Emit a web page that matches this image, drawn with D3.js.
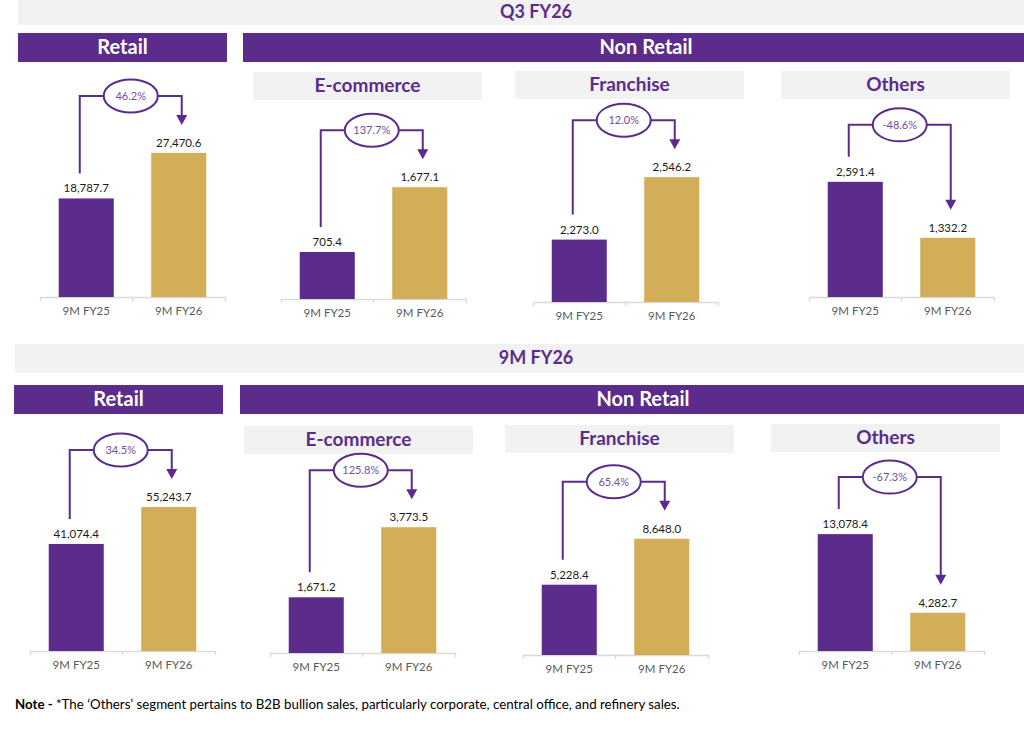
<!DOCTYPE html>
<html>
<head>
<meta charset="utf-8">
<script src="https://cdn.jsdelivr.net/npm/d3@7"></script>
<style>
  body { margin: 0; background: #fff; }
  svg { display: block; font-family: Lato, "Open Sans", sans-serif; }
</style>
</head>
<body>
<div id="chart"></div>
<script>
// data
var categories = ["9M FY25", "9M FY26"];
var segments = ["Retail", "E-commerce", "Franchise", "Others"];

var q3Values = [[18787.7, 27470.6], [705.4, 1677.1], [2273.0, 2546.2], [2591.4, 1332.2]];
var q3Growth = ["46.2%", "137.7%", "12.0%", "-48.6%"];
var q3AxisMin = [0, 0, 2000, 0];
var q3AxisMax = [30500, 2400, 2700, 3600];

var nineValues = [[41074.4, 55243.7], [1671.2, 3773.5], [5228.4, 8648.0], [13078.4, 4282.7]];
var nineGrowth = ["34.5%", "125.8%", "65.4%", "-67.3%"];
var nineAxisMin = [0, 0, 0, 0];
var nineAxisMax = [61400, 4800, 11900, 17900];

var noteText = "*The \u2018Others\u2019 segment pertains to B2B bullion sales, particularly corporate, central office, and refinery sales.";

var purple = "#5b2c8c", gold = "#d3ae58", grey = "#f2f2f2";
var plotH = 160, axisW = 185;

var svg = d3.select("#chart")
  .append("svg")
  .attr("width", 1024)
  .attr("height", 730);

// layout of the two blocks
var sections = [
  { title: "Q3 FY26", values: q3Values, growth: q3Growth, amin: q3AxisMin, amax: q3AxisMax,
    banner: [18, 0, 1006, 25], retail: [18, 33, 209, 29], nonRetail: [243, 33, 781, 29],
    subs: [[253, 72], [515, 71], [781, 71]],
    axes: [[40, 297], [281, 299], [533, 302], [809, 297]] },
  { title: "9M FY26", values: nineValues, growth: nineGrowth, amin: nineAxisMin, amax: nineAxisMax,
    banner: [15, 344, 1009, 29], retail: [14, 385, 209, 29], nonRetail: [240, 385, 784, 29],
    subs: [[244, 426], [505, 425], [771, 424]],
    axes: [[30, 651], [270, 653], [523, 655], [799, 651]] }
];

sections.forEach(function(s) {
  // grey banner
  svg.append("rect").attr("x", s.banner[0]).attr("y", s.banner[1])
    .attr("width", s.banner[2]).attr("height", s.banner[3]).attr("fill", grey);
  svg.append("text").attr("x", 536).attr("y", s.banner[1] + s.banner[3] / 2 + 1)
    .attr("text-anchor", "middle").attr("dominant-baseline", "middle")
    .style("font-size", "18px").style("font-weight", "bold").attr("fill", purple)
    .text(s.title);

  // purple headers
  [[s.retail, "Retail"], [s.nonRetail, "Non Retail"]].forEach(function(h) {
    var r = h[0];
    svg.append("rect").attr("x", r[0]).attr("y", r[1])
      .attr("width", r[2]).attr("height", r[3]).attr("fill", purple);
    svg.append("text").attr("x", r[0] + (h[1] == "Retail" ? r[2] / 2 : 403))
      .attr("y", r[1] + r[3] / 2 + 1)
      .attr("text-anchor", "middle").attr("dominant-baseline", "middle")
      .style("font-size", "20px").style("font-weight", "bold").attr("fill", "#fff")
      .text(h[1]);
  });

  // grey sub headers
  s.subs.forEach(function(p, i) {
    svg.append("rect").attr("x", p[0]).attr("y", p[1])
      .attr("width", 229).attr("height", 28).attr("fill", grey);
    svg.append("text").attr("x", p[0] + 114.5).attr("y", p[1] + 15)
      .attr("text-anchor", "middle").attr("dominant-baseline", "middle")
      .style("font-size", "19px").style("font-weight", "bold").attr("fill", purple)
      .text(segments[i + 1]);
  });

  // the four small bar charts
  s.axes.forEach(function(a, i) {
    var vals = s.values[i];
    var g = svg.append("g");

    var x = d3.scaleBand()
      .domain(categories)
      .range([a[0], a[0] + axisW])
      .paddingInner(0.405)
      .paddingOuter(0.2025);

    var y = d3.scaleLinear()
      .domain([s.amin[i], s.amax[i]])
      .range([a[1], a[1] - plotH]);

    var ax = g.append("g")
      .attr("transform", "translate(0," + a[1] + ")")
      .call(d3.axisBottom(x).tickSizeInner(0).tickSizeOuter(4).tickPadding(10));
    ax.select(".domain").attr("stroke", "#d9d9d9").attr("stroke-width", 1.3);
    ax.selectAll("text").style("font-size", "11.5px").attr("fill", "#595959")
      .style("font-family", "Lato, sans-serif");
    ax.append("line").attr("x1", a[0] + axisW / 2).attr("x2", a[0] + axisW / 2)
      .attr("y1", 0).attr("y2", 4).attr("stroke", "#d9d9d9").attr("stroke-width", 1.3);

    g.selectAll(".bar")
      .data(vals)
      .enter()
      .append("rect")
      .attr("x", function(d, j) { return x(categories[j]); })
      .attr("y", function(d) { return y(d); })
      .attr("width", x.bandwidth())
      .attr("height", function(d) { return a[1] - y(d); })
      .attr("fill", function(d, j) { return j == 0 ? purple : gold; });

    g.selectAll(".val")
      .data(vals)
      .enter()
      .append("text")
      .attr("x", function(d, j) { return x(categories[j]) + x.bandwidth() / 2; })
      .attr("y", function(d) { return y(d) - 6; })
      .attr("text-anchor", "middle")
      .style("font-size", "11.5px").attr("fill", "#1a1a1a")
      .text(function(d) { return d3.format(",.1f")(d); });

    // growth bracket with arrow
    var lx = x(categories[0]) + x.bandwidth() / 2 - 6.5;
    var rx = x(categories[1]) + x.bandwidth() / 2 + 3;
    var topY = Math.min(y(vals[0]), y(vals[1])) - 57;
    var leftBottom = y(vals[0]) - 25;
    var tip = y(vals[1]) - 28;
    g.append("path")
      .attr("d", "M" + lx + "," + leftBottom + "V" + topY + "H" + rx + "V" + (tip - 9))
      .attr("fill", "none").attr("stroke", purple).attr("stroke-width", 2);
    g.append("path")
      .attr("d", "M" + (rx - 5.5) + "," + (tip - 10) + "L" + (rx + 5.5) + "," + (tip - 10) + "L" + rx + "," + tip + "Z")
      .attr("fill", purple);
    var cx = (lx + rx) / 2;
    g.append("ellipse").attr("cx", cx).attr("cy", topY)
      .attr("rx", 27).attr("ry", 16.5)
      .attr("fill", "#fff").attr("stroke", purple).attr("stroke-width", 2);
    g.append("text").attr("x", cx).attr("y", topY + 1)
      .attr("text-anchor", "middle").attr("dominant-baseline", "middle")
      .style("font-size", "11px").attr("fill", "#7250a0")
      .text(s.growth[i]);
  });
});

// note line
var note = svg.append("text").attr("x", 15).attr("y", 709)
  .style("font-size", "13.3px").attr("fill", "#000");
note.append("tspan").style("font-weight", "bold").text("Note - ");
note.append("tspan").text(noteText);
</script>
</body>
</html>
